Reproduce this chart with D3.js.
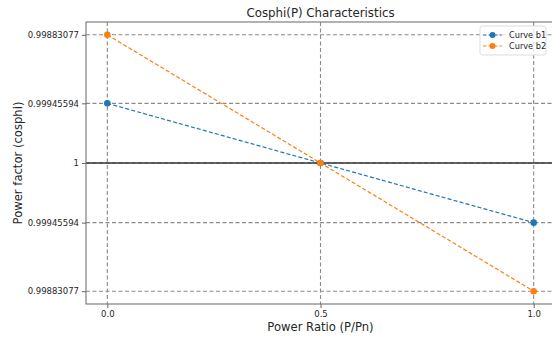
<!DOCTYPE html>
<html>
<head>
<meta charset="utf-8">
<script src="https://cdn.jsdelivr.net/npm/d3@7"></script>
<style>
  body { margin: 0; background: #fff; }
  svg text { font-family: "DejaVu Sans", sans-serif; fill: #262626; }
</style>
</head>
<body>
<svg id="chart" width="552" height="339"></svg>
<script>
// power ratio P/Pn
const powerRatio = [0.0, 0.5, 1.0]
// deviation from cosphi = 1 (positive = upper half of the axis)
const curveB1 = [0.00054406, 0, -0.00054406]
const curveB2 = [0.00116923, 0, -0.00116923]
const seriesNames = ['Curve b1', 'Curve b2']
const seriesColors = ['#1f77b4', '#ff7f0e']

const xTicks = [0.0, 0.5, 1.0]
const xTickLabels = ['0.0', '0.5', '1.0']
const yTicks = [0.00116923, 0.00054406, 0, -0.00054406, -0.00116923]
const yTickLabels = ['0.99883077', '0.99945594', '1', '0.99945594', '0.99883077']

const svg = d3.select('#chart')
const plotLeft = 86, plotRight = 555, plotTop = 22, plotBottom = 304

const x = d3.scaleLinear().domain([-0.05, 1.05]).range([plotLeft, plotRight])
const yMax = 0.00116923 * 1.1
const y = d3.scaleLinear().domain([-yMax, yMax]).range([plotBottom, plotTop])

const grid = svg.append('g')
grid.selectAll('.vg').data(xTicks).join('line')
    .attr('x1', d => x(d)).attr('x2', d => x(d))
    .attr('y1', plotTop).attr('y2', plotBottom)
    .attr('stroke', '#8a8a8a').attr('stroke-width', 1.1)
    .attr('stroke-dasharray', '4,2.5')
grid.selectAll('.hg').data(yTicks).join('line')
    .attr('x1', plotLeft).attr('x2', plotRight)
    .attr('y1', d => y(d)).attr('y2', d => y(d))
    .attr('stroke', '#8a8a8a').attr('stroke-width', 1.1)
    .attr('stroke-dasharray', '4,2.5')

// reference line at cosphi = 1
svg.append('line')
    .attr('x1', plotLeft).attr('x2', plotRight)
    .attr('y1', y(0)).attr('y2', y(0))
    .attr('stroke', '#333').attr('stroke-width', 1.5)

const series = [curveB1, curveB2]
const line = d3.line().x(d => x(d[0])).y(d => y(d[1]))

series.forEach((vals, i) => {
    const pts = powerRatio.map((p, j) => [p, vals[j]])
    svg.append('path')
        .attr('d', line(pts))
        .attr('fill', 'none')
        .attr('stroke', seriesColors[i])
        .attr('stroke-width', 1.2)
        .attr('stroke-dasharray', '4,2.2')
    svg.selectAll('.pt' + i).data(pts).join('circle')
        .attr('cx', d => x(d[0])).attr('cy', d => y(d[1]))
        .attr('r', 3.3)
        .attr('fill', seriesColors[i])
})

// spines
svg.append('rect')
    .attr('x', plotLeft).attr('y', plotTop)
    .attr('width', plotRight - plotLeft).attr('height', plotBottom - plotTop)
    .attr('fill', 'none').attr('stroke', '#666').attr('stroke-width', 1)

const xAxis = d3.axisBottom(x).tickValues(xTicks)
    .tickFormat((d, i) => xTickLabels[i]).tickSize(4).tickPadding(3)
const gx = svg.append('g').attr('transform', `translate(0,${plotBottom})`).call(xAxis)
gx.select('.domain').remove()
gx.selectAll('line').attr('stroke', '#666')
gx.selectAll('text').style('font-size', '8.5px')

const yAxis = d3.axisLeft(y).tickValues(yTicks)
    .tickFormat((d, i) => yTickLabels[i]).tickSize(4).tickPadding(3)
const gy = svg.append('g').attr('transform', `translate(${plotLeft},0)`).call(yAxis)
gy.select('.domain').remove()
gy.selectAll('line').attr('stroke', '#666')
gy.selectAll('text').style('font-size', '8.5px')

svg.append('text')
    .attr('x', (plotLeft + plotRight) / 2).attr('y', 17)
    .attr('text-anchor', 'middle')
    .style('font-size', '11.8px')
    .text('Cosphi(P) Characteristics')

svg.append('text')
    .attr('x', (plotLeft + plotRight) / 2).attr('y', 331)
    .attr('text-anchor', 'middle')
    .style('font-size', '11.6px')
    .text('Power Ratio (P/Pn)')

svg.append('text')
    .attr('transform', `translate(22,${(plotTop + plotBottom) / 2}) rotate(-90)`)
    .attr('text-anchor', 'middle')
    .style('font-size', '11.6px')
    .text('Power factor (cosphi)')

// legend
const lg = svg.append('g').attr('transform', 'translate(480,26)')
lg.append('rect')
    .attr('width', 66).attr('height', 29).attr('rx', 2)
    .attr('fill', '#fff').attr('fill-opacity', 0.8)
    .attr('stroke', '#ddd')
seriesNames.forEach((name, i) => {
    const row = lg.append('g').attr('transform', `translate(3,${9 + i * 11})`)
    row.append('line').attr('x1', 0).attr('x2', 19)
        .attr('stroke', seriesColors[i]).attr('stroke-width', 1.2)
        .attr('stroke-dasharray', '3.5,2')
    row.append('circle').attr('cx', 9.5).attr('r', 3).attr('fill', seriesColors[i])
    row.append('text').attr('x', 26).attr('y', 3)
        .style('font-size', '8.2px').text(name)
})
</script>
</body>
</html>
